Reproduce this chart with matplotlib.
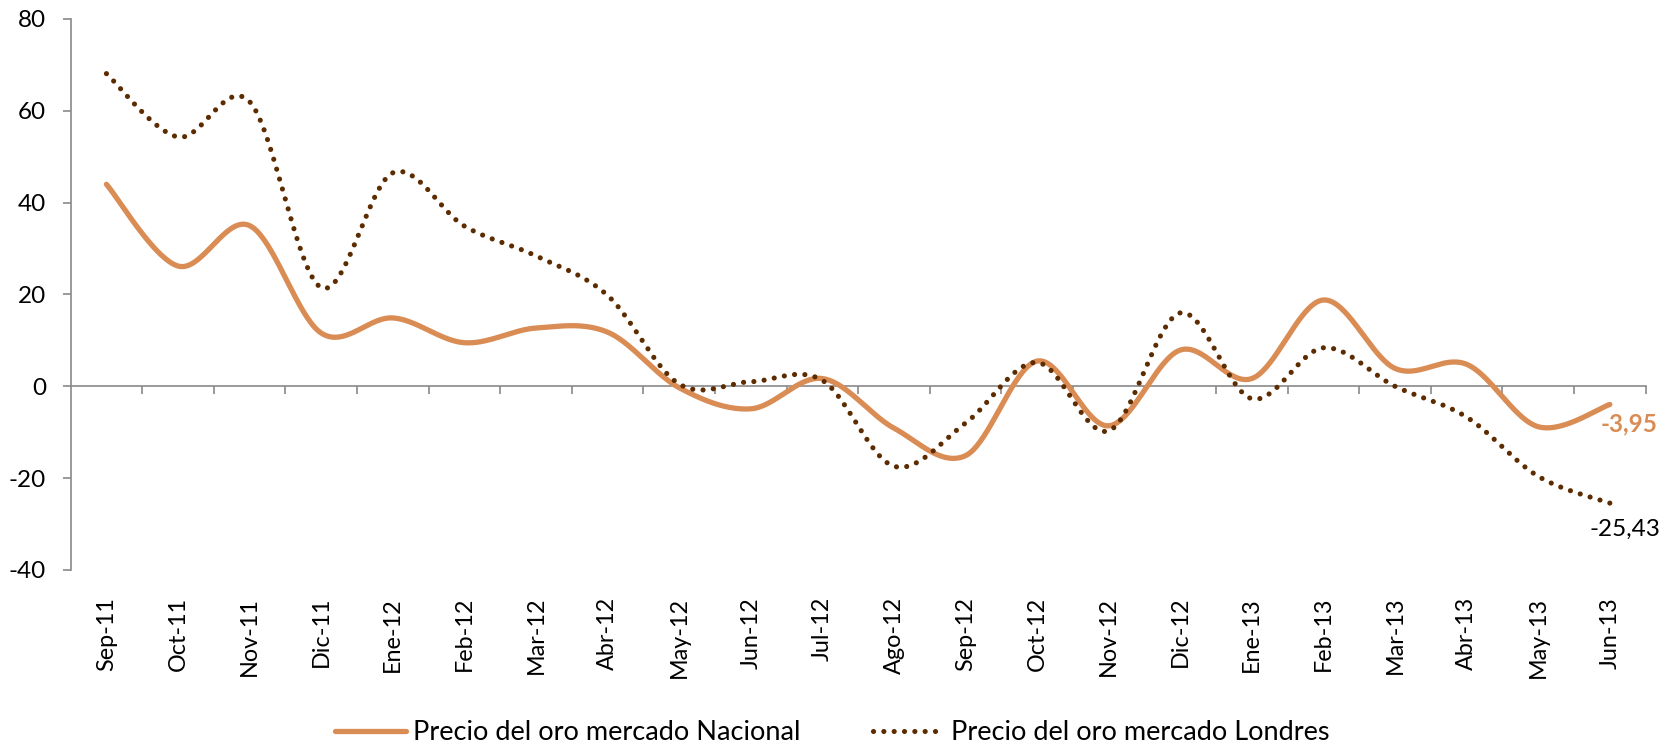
import numpy as np
import matplotlib
matplotlib.use("Agg")
import matplotlib.pyplot as plt
from matplotlib.transforms import blended_transform_factory

# Monthly variation (%) of the gold price, Sep-2011 to Jun-2013
months = ["Sep-11", "Oct-11", "Nov-11", "Dic-11", "Ene-12", "Feb-12", "Mar-12",
          "Abr-12", "May-12", "Jun-12", "Jul-12", "Ago-12", "Sep-12", "Oct-12",
          "Nov-12", "Dic-12", "Ene-13", "Feb-13", "Mar-13", "Abr-13", "May-13",
          "Jun-13"]
nacional = [44.0, 26.2, 35.0, 11.6, 14.9, 9.5, 12.7, 11.8, -0.3, -4.9, 1.7,
            -9.1, -15.1, 5.5, -8.6, 7.9, 1.7, 18.8, 3.9, 4.8, -8.8, -3.95]
londres = [68.1, 54.3, 62.0, 21.5, 46.5, 34.9, 28.4, 19.8, 0.5, 1.0, 1.3,
           -17.4, -8.0, 5.2, -9.7, 16.0, -2.7, 8.4, 0.0, -6.7, -19.6, -25.43]
yticks = [-40, -20, 0, 20, 40, 60, 80]

label_nacional = "Precio del oro mercado Nacional"
label_londres = "Precio del oro mercado Londres"

C_NAC = "#DA8C55"
C_LON = "#5C2C00"
C_AXIS = "#898989"
FONT = "Lato"

plt.rcParams["font.family"] = [FONT, "DejaVu Sans"]


def smooth(values, n=40):
    """Smoothed curve through the points (cubic Bezier, Catmull-Rom handles)."""
    y = np.asarray(values, float)
    pts = np.column_stack([np.arange(len(y), dtype=float), y])
    ext = np.vstack([pts[0], pts, pts[-1]])
    t = np.linspace(0, 1, n, endpoint=False)[:, None]
    segs = []
    for i in range(len(pts) - 1):
        p0, p1, p2, p3 = ext[i], ext[i + 1], ext[i + 2], ext[i + 3]
        c1 = p1 + (p2 - p0) / 6.0
        c2 = p2 - (p3 - p1) / 6.0
        segs.append((1 - t) ** 3 * p1 + 3 * (1 - t) ** 2 * t * c1
                    + 3 * (1 - t) * t ** 2 * c2 + t ** 3 * p2)
    segs.append(pts[-1:])
    r = np.vstack(segs)
    return r[:, 0], r[:, 1]


fig = plt.figure(figsize=(16.78, 7.45), dpi=100)
ax = fig.add_axes([0.0421, 0.2349, 0.9386, 0.7396])

xs, ys = smooth(nacional)
ax.plot(xs, ys, color=C_NAC, lw=3.8, solid_capstyle="round",
        label=label_nacional, zorder=3)
xs, ys = smooth(londres)
ax.plot(xs, ys, color=C_LON, lw=3.7, linestyle=(0, (0.01, 2.0)),
        dash_capstyle="round", label=label_londres, zorder=4)

ax.set_xlim(-0.5, len(months) - 0.5)
ax.set_ylim(-40, 80)

for side in ("top", "right"):
    ax.spines[side].set_visible(False)
ax.spines["bottom"].set_position(("data", 0))
for side in ("left", "bottom"):
    ax.spines[side].set_color(C_AXIS)
    ax.spines[side].set_linewidth(1.2)

ax.set_yticks(yticks)
ax.set_yticklabels([str(v) for v in yticks])
ax.tick_params(axis="y", direction="out", length=5.8, width=1.2,
               color=C_AXIS, pad=12, labelsize=17.5, labelcolor="black")
ax.set_xticks(np.arange(0.5, len(months) - 0.4, 1.0))
ax.tick_params(axis="x", direction="out", length=5.8, width=1.2,
               color=C_AXIS, labelbottom=False)

trans = blended_transform_factory(ax.transData, ax.transAxes)
for i, m in enumerate(months):
    ax.text(i, -0.049, m, transform=trans, rotation=90, ha="center",
            va="top", fontsize=16.8, color="black")

ax.annotate("-3,95", xy=(len(months) - 1, nacional[-1]), xytext=(14, -14),
            textcoords="offset points", ha="center", va="center",
            fontsize=17.5, fontweight="bold", color=C_NAC)
ax.annotate("-25,43", xy=(len(months) - 1, londres[-1]), xytext=(11, -19),
            textcoords="offset points", ha="center", va="center",
            fontsize=17.5, color="black")

fig.legend(loc="center", bbox_to_anchor=(0.496, 1 - 733 / 745), ncol=2,
           frameon=False, fontsize=19.5, handlelength=2.6, handletextpad=0.26,
           columnspacing=2.7)

fig.savefig("out.png", dpi=100, facecolor="white")
